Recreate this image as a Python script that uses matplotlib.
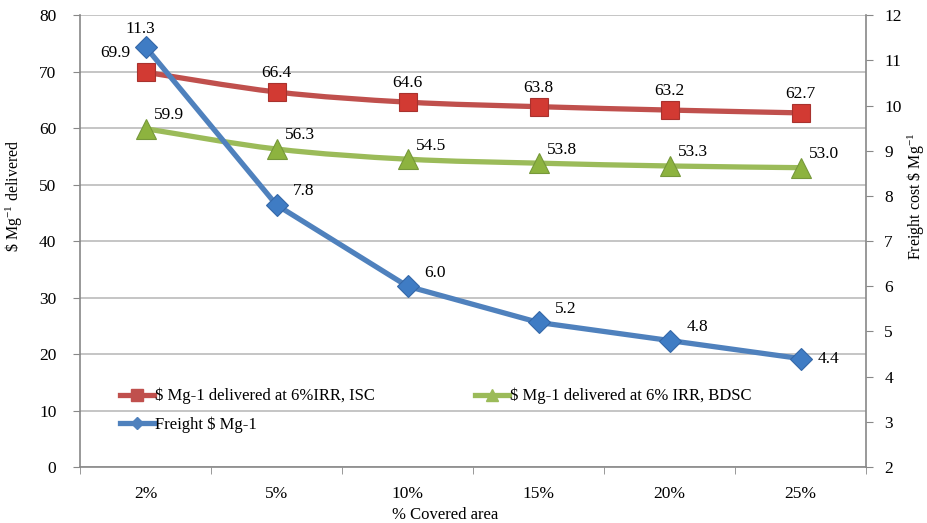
import matplotlib.pyplot as plt
import numpy as np
from matplotlib.path import Path
from matplotlib.patches import PathPatch
from matplotlib.lines import Line2D

plt.rcParams['font.family'] = ['Liberation Serif', 'DejaVu Serif']
plt.rcParams['mathtext.fontset'] = 'stix'

# Data
categories = ["2%", "5%", "10%", "15%", "20%", "25%"]
isc_cost = [69.9, 66.4, 64.6, 63.8, 63.2, 62.7]
bdsc_cost = [59.9, 56.3, 54.5, 53.8, 53.3, 53.0]
freight = [11.3, 7.8, 6.0, 5.2, 4.8, 4.4]

RED = "#C0504D"
GREEN = "#9BBB59"
BLUE = "#4F81BD"


def smooth_path(xs, ys):
    # Catmull-Rom style bezier, like Excel's smoothed line
    pts = np.column_stack([xs, ys]).astype(float)
    verts = [pts[0]]
    codes = [Path.MOVETO]
    n = len(pts)
    for i in range(n - 1):
        p0 = pts[i - 1] if i > 0 else pts[i]
        p1 = pts[i]
        p2 = pts[i + 1]
        p3 = pts[i + 2] if i + 2 < n else pts[i + 1]
        c1 = p1 + (p2 - p0) / 6.0
        c2 = p2 - (p3 - p1) / 6.0
        verts += [c1, c2, p2]
        codes += [Path.CURVE4] * 3
    return Path(verts, codes)


fig = plt.figure(figsize=(9.27, 5.23), dpi=100)
ax = fig.add_axes([0.0863, 0.107, 0.848, 0.864])
ax2 = ax.twinx()

x = np.arange(len(categories))

ax.add_patch(PathPatch(smooth_path(x, isc_cost), fill=False, edgecolor=RED, lw=3.8,
                       capstyle='round', zorder=3))
ax.plot(x, isc_cost, ls='none', marker='s', ms=13, mfc="#D23A33", mec="#A8322E", mew=0.8,
        zorder=4)
ax.add_patch(PathPatch(smooth_path(x, bdsc_cost), fill=False, edgecolor=GREEN, lw=3.8,
                       capstyle='round', zorder=3))
ax.plot(x, bdsc_cost, ls='none', marker='^', ms=15, mfc="#8DB33F", mec="#76983A", mew=0.8,
        zorder=4)

ax2.plot(x, freight, color=BLUE, lw=3.8, solid_capstyle='round', zorder=3)
ax2.plot(x, freight, ls='none', marker='D', ms=11, mfc="#3F7CC4", mec="#3568A8", mew=0.8,
         zorder=4)

# Data labels
fs = 12.5
for i, v in enumerate(isc_cost):
    dx = -22 if i == 0 else 0
    ax.annotate(f"{v:.1f}", (x[i], v), xytext=(dx, 8), textcoords='offset points',
                ha='center', va='bottom', fontsize=fs)
for i, v in enumerate(bdsc_cost):
    ax.annotate(f"{v:.1f}", (x[i], v), xytext=(6, 4), textcoords='offset points',
                ha='left', va='bottom', fontsize=fs)
for i, v in enumerate(freight):
    if i == 0:
        ax2.annotate(f"{v:.1f}", (x[i], v), xytext=(-4, 7), textcoords='offset points',
                     ha='center', va='bottom', fontsize=fs)
    elif i == len(freight) - 1:
        ax2.annotate(f"{v:.1f}", (x[i], v), xytext=(12, 0), textcoords='offset points',
                     ha='left', va='center', fontsize=fs)
    else:
        ax2.annotate(f"{v:.1f}", (x[i], v), xytext=(12, 4), textcoords='offset points',
                     ha='left', va='bottom', fontsize=fs)

# Axes
ax.set_xlim(-0.5, len(categories) - 0.5)
ax.set_ylim(0, 80)
ax.set_yticks(range(0, 81, 10))
ax2.set_ylim(2, 12)
ax2.set_yticks(range(2, 13))
ax.set_xticks(x)
ax.set_xticklabels(categories)
ax.set_xticks(np.arange(-0.5, len(categories)), minor=True)
ax.tick_params(axis='x', which='major', length=0, pad=14, labelsize=12.5)
ax.tick_params(axis='x', which='minor', length=5, color='#888888', direction='out')
ax.tick_params(axis='y', length=5, color='#888888', labelsize=12.5, pad=12)
ax2.tick_params(axis='y', length=5, color='#888888', labelsize=12.5, pad=8)

ax.grid(axis='y', color='#BBBBBB', lw=1.2)
ax.set_axisbelow(True)
ax.spines['top'].set_visible(False)
ax2.spines['top'].set_visible(False)
ax.spines['right'].set_visible(False)
ax2.spines['left'].set_visible(False)
ax2.spines['bottom'].set_visible(False)
for sp in [ax.spines['left'], ax.spines['bottom'], ax2.spines['right']]:
    sp.set_color('#888888')
    sp.set_linewidth(1.2)

ax.set_xlabel("% Covered area", fontsize=12)
ax.xaxis.set_label_coords(0.465, -0.088)
ax.set_ylabel(r"\$ Mg$^{\mathregular{-1}}$ delivered", fontsize=11.5)
ax.yaxis.set_label_coords(-0.07, 0.6)
ax2.set_ylabel(r"Freight cost \$ Mg$^{\mathregular{-1}}$", fontsize=11.5)
ax2.yaxis.set_label_coords(1.05, 0.6)

# Legend (red, green on first row; blue on second)
handles = []
for col, mk, ms in [(RED, 's', 8), (BLUE, 'D', 6), (GREEN, '^', 9)]:
    handles.append(Line2D([], [], color=col, lw=3.8, marker=mk, ms=ms, mfc=col, mec=col))
labels = ["$ Mg-1 delivered at 6%IRR, ISC", "Freight $ Mg-1",
          "$ Mg-1 delivered at 6% IRR, BDSC"]
ax2.legend(handles, labels, ncol=2, loc='upper left', bbox_to_anchor=(0.043, 0.19),
           frameon=False, fontsize=12, handlelength=2.0, handletextpad=0.1,
           columnspacing=6.0, labelspacing=0.7, borderaxespad=0)

fig.savefig("out.png", dpi=100)
